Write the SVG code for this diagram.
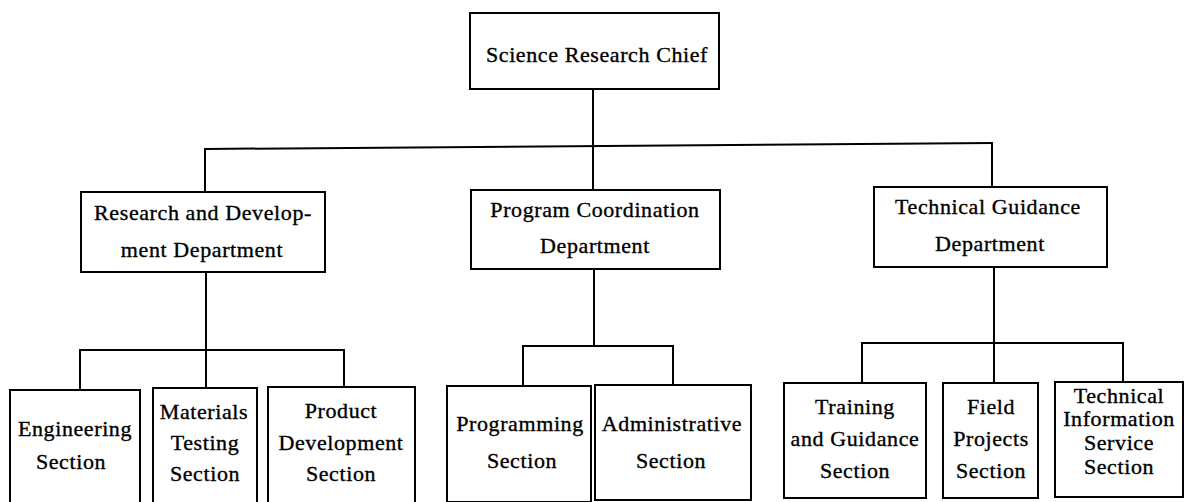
<svg xmlns="http://www.w3.org/2000/svg" width="1185" height="502" viewBox="0 0 1185 502">
  <style>
    rect.box { fill: #ffffff; stroke: #000000; stroke-width: 2; }
    .conn line { stroke: #000000; stroke-width: 2; stroke-linecap: square; }
    text { font-family: "Liberation Serif", "Times New Roman", serif; font-size: 22px; letter-spacing: 0.6px; fill: #000000; stroke: #000000; stroke-width: 0.35px; text-anchor: middle; }
  </style>
  <rect width="1185" height="502" fill="#ffffff"/>

  <!-- connectors -->
  <g id="connectors" class="conn">
    <!-- chief to departments -->
    <line x1="593" y1="89" x2="593" y2="147"/>
    <line x1="205" y1="149" x2="992" y2="143"/>
    <line x1="205" y1="149" x2="205" y2="192"/>
    <line x1="593" y1="147" x2="593" y2="190"/>
    <line x1="992" y1="143" x2="992" y2="187"/>
    <!-- research and development sections -->
    <line x1="206" y1="272" x2="206" y2="350"/>
    <line x1="80" y1="350" x2="344" y2="350"/>
    <line x1="80" y1="350" x2="80" y2="390"/>
    <line x1="206" y1="350" x2="206" y2="388"/>
    <line x1="344" y1="350" x2="344" y2="387"/>
    <!-- program coordination sections -->
    <line x1="594" y1="269" x2="594" y2="346"/>
    <line x1="523" y1="346" x2="673" y2="346"/>
    <line x1="523" y1="346" x2="523" y2="386"/>
    <line x1="673" y1="346" x2="673" y2="385"/>
    <!-- technical guidance sections -->
    <line x1="994" y1="267" x2="994" y2="343"/>
    <line x1="862" y1="343" x2="1123" y2="343"/>
    <line x1="862" y1="343" x2="862" y2="383"/>
    <line x1="994" y1="343" x2="994" y2="383"/>
    <line x1="1123" y1="343" x2="1123" y2="382"/>
  </g>

  <!-- top level -->
  <g id="science-research-chief">
    <rect class="box" x="470" y="13" width="249" height="76"/>
    <text x="597" y="62">Science Research Chief</text>
  </g>

  <!-- departments -->
  <g id="research-development-dept">
    <rect class="box" x="81" y="192" width="244" height="80"/>
    <text x="203" y="220">Research and Develop-</text>
    <text x="202" y="257">ment Department</text>
  </g>
  <g id="program-coordination-dept">
    <rect class="box" x="471" y="190" width="249" height="79"/>
    <text x="595" y="217">Program Coordination</text>
    <text x="595" y="253">Department</text>
  </g>
  <g id="technical-guidance-dept">
    <rect class="box" x="874" y="187" width="233" height="80"/>
    <text x="988" y="214">Technical Guidance</text>
    <text x="990" y="251">Department</text>
  </g>

  <!-- sections -->
  <g id="engineering-section">
    <rect class="box" x="10" y="390" width="130" height="120"/>
    <text x="75" y="436">Engineering</text>
    <text x="71" y="469">Section</text>
  </g>
  <g id="materials-testing-section">
    <rect class="box" x="153" y="388" width="104" height="122"/>
    <text x="204" y="419">Materials</text>
    <text x="205" y="450">Testing</text>
    <text x="205" y="481">Section</text>
  </g>
  <g id="product-development-section">
    <rect class="box" x="268" y="387" width="147" height="123"/>
    <text x="341" y="418">Product</text>
    <text x="341" y="450">Development</text>
    <text x="341" y="481">Section</text>
  </g>
  <g id="programming-section">
    <rect class="box" x="447" y="386" width="144" height="116"/>
    <text x="520" y="431">Programming</text>
    <text x="522" y="468">Section</text>
  </g>
  <g id="administrative-section">
    <rect class="box" x="595" y="385" width="156" height="115"/>
    <text x="672" y="431">Administrative</text>
    <text x="671" y="468">Section</text>
  </g>
  <g id="training-guidance-section">
    <rect class="box" x="784" y="383" width="142" height="115"/>
    <text x="855" y="414">Training</text>
    <text x="855" y="446">and Guidance</text>
    <text x="855" y="478">Section</text>
  </g>
  <g id="field-projects-section">
    <rect class="box" x="943" y="383" width="95" height="115"/>
    <text x="991" y="414">Field</text>
    <text x="991" y="446">Projects</text>
    <text x="991" y="478">Section</text>
  </g>
  <g id="technical-information-service-section">
    <rect class="box" x="1055" y="382" width="128" height="115"/>
    <text x="1119" y="403">Technical</text>
    <text x="1119" y="426">Information</text>
    <text x="1119" y="450">Service</text>
    <text x="1119" y="474">Section</text>
  </g>
</svg>
